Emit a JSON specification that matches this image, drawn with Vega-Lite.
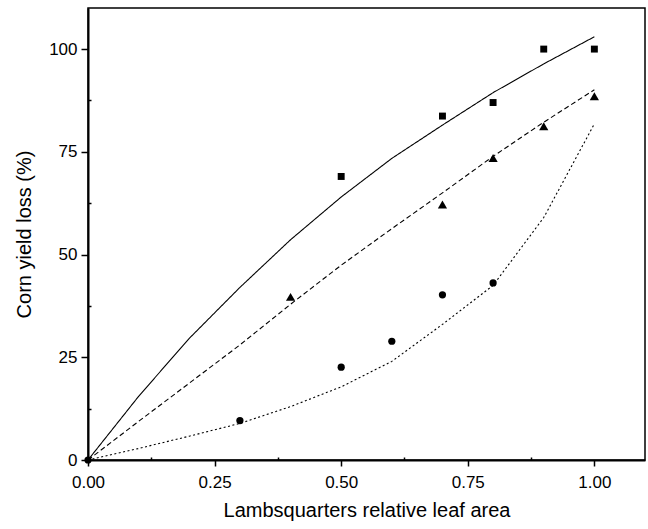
{
  "$schema": "https://vega.github.io/schema/vega-lite/v6.json",
  "width": 557,
  "height": 452,
  "autosize": {"type": "none"},
  "padding": {"left": 88, "top": 8, "right": 3, "bottom": 69},
  "background": "white",
  "config": {
    "view": {"stroke": "black", "strokeWidth": 1.5},
    "font": "Liberation Sans",
    "axis": {
      "domainColor": "black",
      "domainWidth": 2,
      "tickColor": "black",
      "tickWidth": 1.5,
      "labelColor": "black",
      "titleColor": "black",
      "labelFont": "Liberation Sans",
      "titleFont": "Liberation Sans",
      "labelFontSize": 17,
      "titleFontSize": 20,
      "titleFontWeight": "normal",
      "grid": false
    }
  },
  "datasets": {
    "points": [
      {"x": 0.5, "y": 69, "series": "Square"},
      {"x": 0.7, "y": 83.7, "series": "Square"},
      {"x": 0.8, "y": 87, "series": "Square"},
      {"x": 0.9, "y": 100, "series": "Square"},
      {"x": 1.0, "y": 100, "series": "Square"},
      {"x": 0.4, "y": 39.7, "series": "Triangle"},
      {"x": 0.7, "y": 62.2, "series": "Triangle"},
      {"x": 0.8, "y": 73.5, "series": "Triangle"},
      {"x": 0.9, "y": 81.2, "series": "Triangle"},
      {"x": 1.0, "y": 88.5, "series": "Triangle"},
      {"x": 0.0, "y": 0, "series": "Circle"},
      {"x": 0.3, "y": 9.6, "series": "Circle"},
      {"x": 0.5, "y": 22.6, "series": "Circle"},
      {"x": 0.6, "y": 28.9, "series": "Circle"},
      {"x": 0.7, "y": 40.2, "series": "Circle"},
      {"x": 0.8, "y": 43.1, "series": "Circle"}
    ],
    "fits": [
      {"x": 0.0, "y": 0, "series": "Square"},
      {"x": 0.1, "y": 15.5, "series": "Square"},
      {"x": 0.2, "y": 29.6, "series": "Square"},
      {"x": 0.3, "y": 42, "series": "Square"},
      {"x": 0.4, "y": 53.6, "series": "Square"},
      {"x": 0.5, "y": 64, "series": "Square"},
      {"x": 0.6, "y": 73.4, "series": "Square"},
      {"x": 0.7, "y": 81.5, "series": "Square"},
      {"x": 0.8, "y": 89.4, "series": "Square"},
      {"x": 0.9, "y": 96.4, "series": "Square"},
      {"x": 1.0, "y": 103, "series": "Square"},
      {"x": 0.0, "y": 0, "series": "Triangle"},
      {"x": 0.1, "y": 9.4, "series": "Triangle"},
      {"x": 0.2, "y": 18.7, "series": "Triangle"},
      {"x": 0.3, "y": 28, "series": "Triangle"},
      {"x": 0.4, "y": 37.9, "series": "Triangle"},
      {"x": 0.5, "y": 47.4, "series": "Triangle"},
      {"x": 0.6, "y": 56.3, "series": "Triangle"},
      {"x": 0.7, "y": 65, "series": "Triangle"},
      {"x": 0.8, "y": 73.9, "series": "Triangle"},
      {"x": 0.9, "y": 82.2, "series": "Triangle"},
      {"x": 1.0, "y": 90.1, "series": "Triangle"},
      {"x": 0.0, "y": 0, "series": "Circle"},
      {"x": 0.1, "y": 2.8, "series": "Circle"},
      {"x": 0.2, "y": 5.8, "series": "Circle"},
      {"x": 0.3, "y": 8.9, "series": "Circle"},
      {"x": 0.4, "y": 13, "series": "Circle"},
      {"x": 0.5, "y": 17.8, "series": "Circle"},
      {"x": 0.6, "y": 24, "series": "Circle"},
      {"x": 0.7, "y": 33, "series": "Circle"},
      {"x": 0.8, "y": 42.5, "series": "Circle"},
      {"x": 0.9, "y": 59, "series": "Circle"},
      {"x": 1.0, "y": 81.8, "series": "Circle"}
    ]
  },
  "layer": [
    {
      "data": {"name": "fits"},
      "mark": {"type": "line", "color": "black", "strokeWidth": 1.1, "clip": true},
      "encoding": {
        "x": {
          "field": "x", "type": "quantitative",
          "scale": {"domain": [0, 1.1], "nice": false, "zero": false},
          "axis": {
            "title": "Lambsquarters relative leaf area",
            "values": [0, 0.125, 0.25, 0.375, 0.5, 0.625, 0.75, 0.875, 1.0],
            "format": ".2f",
            "labelExpr": "round(datum.value * 8) % 2 == 0 ? datum.label : ''",
            "tickSize": {"condition": {"test": "round(datum.value * 8) % 2 == 0", "value": 6}, "value": -3},
            "labelPadding": 8,
            "titlePadding": 10,
            "labelFlush": false
          }
        },
        "y": {
          "field": "y", "type": "quantitative",
          "scale": {"domain": [0, 110], "nice": false, "zero": false},
          "axis": {
            "title": "Corn yield loss (%)",
            "values": [0, 12.5, 25, 37.5, 50, 62.5, 75, 87.5, 100],
            "labelExpr": "datum.value % 25 == 0 ? datum.label : ''",
            "tickSize": {"condition": {"test": "datum.value % 25 == 0", "value": 7}, "value": -3},
            "labelPadding": 4,
            "titlePadding": 14,
            "labelFlush": false
          }
        },
        "detail": {"field": "series"},
        "strokeDash": {
          "field": "series", "type": "nominal",
          "scale": {"domain": ["Square", "Triangle", "Circle"], "range": [[1, 0], [5, 3], [2, 2.5]]},
          "legend": null
        }
      }
    },
    {
      "data": {"name": "points"},
      "mark": {"type": "point", "filled": true, "color": "black", "opacity": 1},
      "encoding": {
        "x": {"field": "x", "type": "quantitative"},
        "y": {"field": "y", "type": "quantitative"},
        "shape": {
          "field": "series", "type": "nominal",
          "scale": {"domain": ["Square", "Triangle", "Circle"], "range": ["square", "triangle-up", "circle"]},
          "legend": null
        },
        "size": {
          "field": "series", "type": "nominal",
          "scale": {"type": "ordinal", "domain": ["Square", "Triangle", "Circle"], "range": [48, 85, 52]},
          "legend": null
        }
      }
    }
  ]
}
